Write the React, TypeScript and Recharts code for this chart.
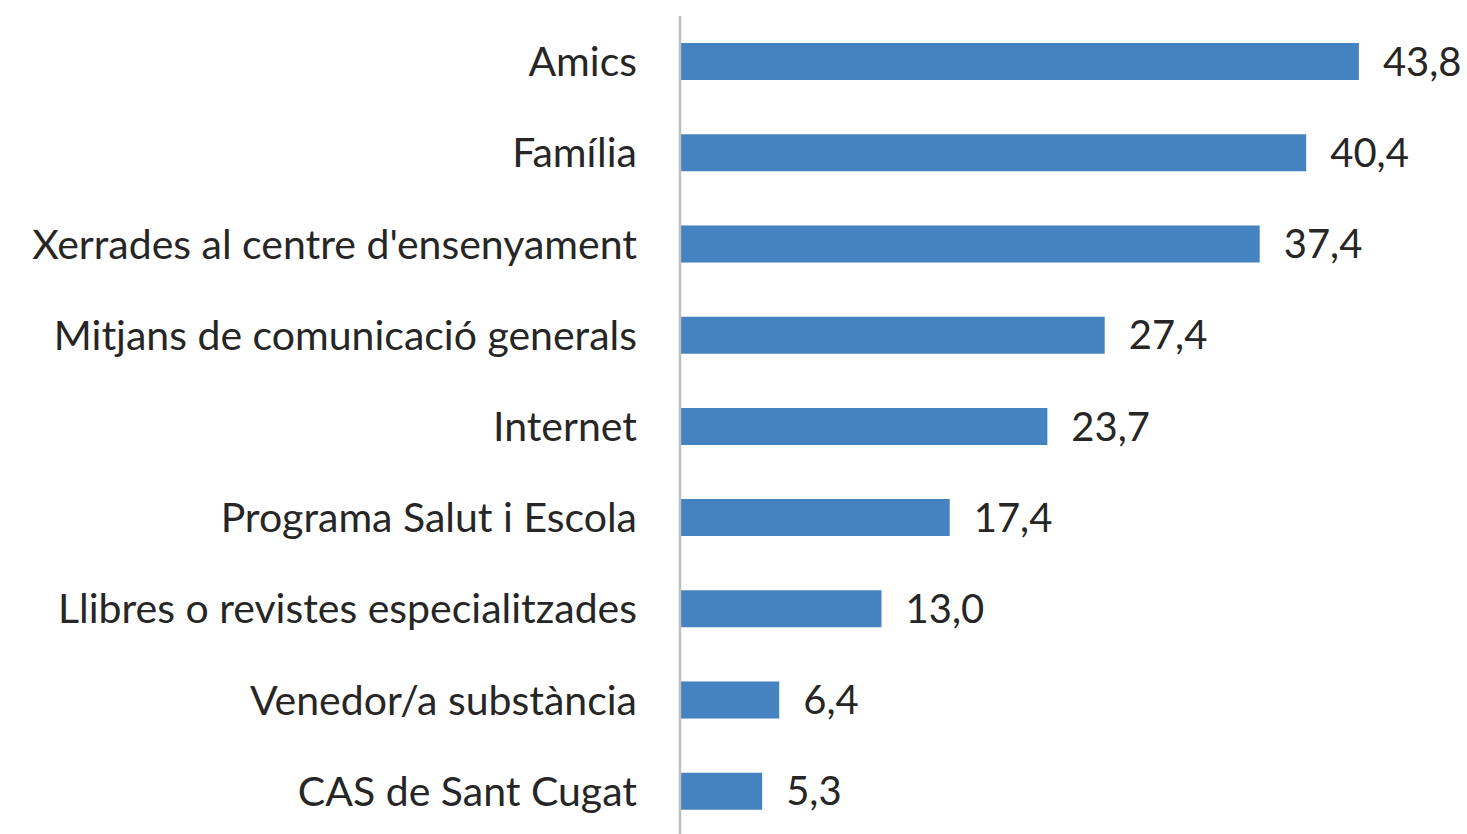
import { BarChart, Bar, XAxis, YAxis, LabelList } from "recharts";

/* ------------------------------------------------------------------ */
/*  Data                                                               */
/* ------------------------------------------------------------------ */

const categories = [
  "Amics",
  "Família",
  "Xerrades al centre d'ensenyament",
  "Mitjans de comunicació generals",
  "Internet",
  "Programa Salut i Escola",
  "Llibres o revistes especialitzades",
  "Venedor/a substància",
  "CAS de Sant Cugat",
];

const percentages = [43.8, 40.4, 37.4, 27.4, 23.7, 17.4, 13.0, 6.4, 5.3];

const BAR_COLOR = "#4482C0";
const TEXT_COLOR = "#262626";
const FONT = "Lato, 'Open Sans', sans-serif";

const chartData = categories.map((name, i) => ({
  name,
  value: percentages[i],
}));

const formatValue = (v: unknown) => Number(v).toFixed(1).replace(".", ",");

/* ------------------------------------------------------------------ */
/*  App                                                                */
/* ------------------------------------------------------------------ */

export default function App() {
  return (
    <div style={{ position: "absolute", left: 0, top: 0, background: "#fff" }}>
      <BarChart
        width={1467}
        height={840}
        data={chartData}
        layout="vertical"
        margin={{ top: 16, right: 12, bottom: 3, left: 0 }}
      >
        <XAxis type="number" domain={[0, 50]} hide />
        <YAxis
          type="category"
          dataKey="name"
          width={680}
          tickLine={false}
          tickSize={0}
          tickMargin={43}
          axisLine={{ stroke: "#BFBFBF", strokeWidth: 2.5 }}
          tick={{ fill: TEXT_COLOR, fontSize: 41, fontFamily: FONT }}
          interval={0}
        />
        <Bar dataKey="value" fill={BAR_COLOR} barSize={37} isAnimationActive={false}>
          <LabelList
            dataKey="value"
            position="right"
            offset={24}
            formatter={formatValue}
            style={{ fill: TEXT_COLOR, fontSize: 40, fontFamily: FONT }}
          />
        </Bar>
      </BarChart>
    </div>
  );
}
